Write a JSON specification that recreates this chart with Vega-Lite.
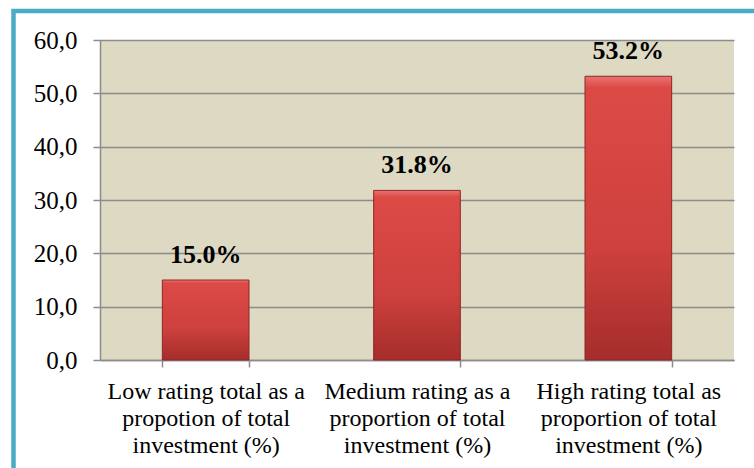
{
  "$schema": "https://vega.github.io/schema/vega-lite/v6.json",
  "width": 634,
  "height": 320,
  "autosize": "none",
  "padding": {"left": 100, "top": 40, "right": 20, "bottom": 108},
  "background": "white",
  "config": {
    "font": "Liberation Serif",
    "view": {"fill": "#DDD9C3", "stroke": null},
    "axis": {"labelFont": "Liberation Serif"},
    "legend": {"strokeWidth": 4.5}
  },
  "data": {
    "values": [
      {"cat": "Low rating total as a|propotion of total|investment (%)", "value": 15.0, "label": "15.0%"},
      {"cat": "Medium rating as a|proportion of total|investment  (%)", "value": 31.8, "label": "31.8%"},
      {"cat": "High rating total as|proportion of total|investment (%)", "value": 53.2, "label": "53.2%"}
    ]
  },
  "encoding": {
    "x": {
      "field": "cat",
      "type": "nominal",
      "sort": null,
      "scale": {"paddingInner": 0.59, "paddingOuter": 0.295},
      "axis": {
        "title": null,
        "labelAngle": 0,
        "labelExpr": "split(datum.label, '|')",
        "labelFont": "Liberation Serif",
        "labelFontSize": 24,
        "labelLineHeight": 27,
        "labelColor": "black",
        "labelLimit": 0,
        "labelPadding": 12,
        "tickBand": "extent",
        "tickSize": 7,
        "tickColor": "#8C8C8C",
        "tickWidth": 1.5,
        "domainColor": "#8C8C8C",
        "domainWidth": 1.5
      }
    },
    "y": {
      "field": "value",
      "type": "quantitative",
      "scale": {"domain": [0, 60], "nice": false},
      "axis": {
        "title": null,
        "values": [0, 10, 20, 30, 40, 50, 60],
        "labelExpr": "replace(format(datum.value, '.1f'), '.', ',')",
        "labelFont": "Liberation Serif",
        "labelFontSize": 25,
        "labelColor": "black",
        "labelPadding": 16,
        "tickSize": 7,
        "tickColor": "#8C8C8C",
        "tickWidth": 1.5,
        "domainColor": "#8C8C8C",
        "domainWidth": 1.5,
        "gridColor": "#8C8C8C",
        "gridWidth": 1.5
      }
    }
  },
  "layer": [
    {
      "mark": {
        "type": "bar",
        "fill": {
          "gradient": "linear",
          "x1": 0, "y1": 0, "x2": 0, "y2": 1,
          "stops": [
            {"offset": 0, "color": "#E77471"},
            {"offset": 0.04, "color": "#DC4A46"},
            {"offset": 0.6, "color": "#CE413E"},
            {"offset": 1, "color": "#A52D2B"}
          ]
        },
        "stroke": "#8E2624",
        "strokeWidth": 1
      }
    },
    {
      "mark": {
        "type": "text",
        "font": "Liberation Serif",
        "fontSize": 26,
        "fontWeight": "bold",
        "color": "black",
        "baseline": "alphabetic",
        "dy": -17
      },
      "encoding": {"text": {"field": "label"}}
    },
    {
      "mark": {"type": "point", "opacity": 0},
      "encoding": {
        "color": {
          "field": "value",
          "type": "quantitative",
          "legend": {
            "orient": "none",
            "direction": "horizontal",
            "legendX": -86.5,
            "legendY": -29,
            "gradientLength": 747,
            "gradientThickness": 468,
            "gradientOpacity": 0,
            "gradientStrokeWidth": 0,
            "labelExpr": "''",
            "labelOpacity": 0,
            "labelFontSize": 1,
            "labelOffset": 0,
            "title": null,
            "padding": 0,
            "strokeColor": "#4BACC6"
          }
        }
      }
    }
  ]
}
